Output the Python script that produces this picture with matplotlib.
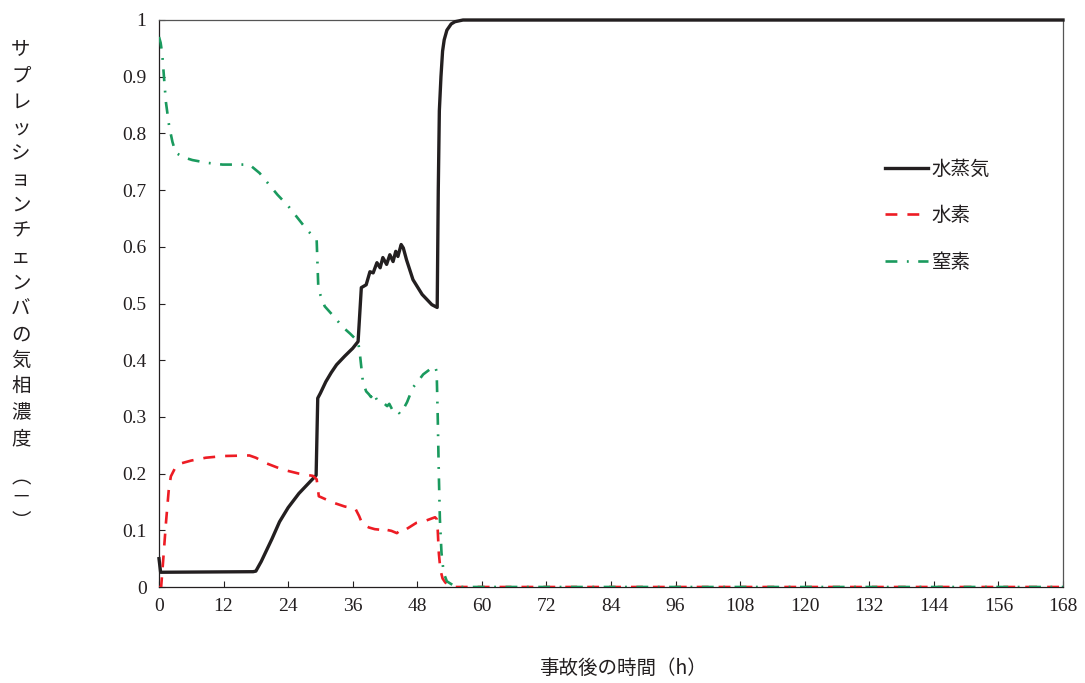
import matplotlib
matplotlib.use("Agg")
import matplotlib.pyplot as plt

# ---- data ----
steam_t = [0, 0.3, 17.5, 18.0, 19, 20, 21, 22.4, 24, 26, 28, 29.2, 29.5, 30, 31, 32, 33, 34.5, 36, 37,
           37.6, 38.5, 39.2, 39.8, 40.5, 41.1, 41.6, 42.3, 42.9, 43.5, 44.0, 44.4, 45.0, 45.4, 46.0,
           47.2, 48.9, 50.7, 51.7, 51.9, 52.1, 52.4, 52.7, 53.0, 53.5, 54.3, 55.0, 56.5, 168]
steam_v = [0.05, 0.026, 0.027, 0.028, 0.045, 0.065, 0.085, 0.115, 0.14, 0.165, 0.185, 0.197, 0.333, 0.342,
           0.362, 0.378, 0.392, 0.407, 0.421, 0.433,
           0.528, 0.533, 0.556, 0.554, 0.572, 0.563, 0.581, 0.569, 0.586, 0.574, 0.592, 0.583, 0.604, 0.598,
           0.577, 0.542, 0.516, 0.498, 0.493, 0.70, 0.84, 0.90, 0.945, 0.965, 0.982, 0.993, 0.997, 1.0, 1.0]

h2_t = [0, 0.4, 0.8, 1.3, 1.8, 2.2, 3.0, 3.7, 6, 8.7, 12, 16.8, 18, 20, 23, 26, 28.6, 29.3, 29.7, 30.2,
        32.3, 34.5, 36.5, 37.2, 37.8, 39, 40.1, 41.1, 41.6, 42.2, 43.2, 44.2, 44.7, 45.3, 45.8, 47.8,
        49.3, 51.3, 51.6, 51.8, 52.0, 52.3, 52.7, 53.2, 54, 55, 168]
h2_v = [0, 0.0, 0.05, 0.114, 0.17, 0.195, 0.21, 0.217, 0.223, 0.228, 0.231, 0.232, 0.228, 0.218, 0.207,
        0.2, 0.196, 0.19, 0.16, 0.158, 0.149, 0.142, 0.138, 0.125, 0.111, 0.105, 0.102, 0.101, 0.097,
        0.101, 0.099, 0.095, 0.099, 0.097, 0.101, 0.113, 0.116, 0.123, 0.12, 0.10, 0.06, 0.03, 0.015,
        0.008, 0.003, 0.0, 0.0]

n2_t = [0, 0.3, 0.6, 1.0, 1.3, 1.9, 2.5, 3.1, 4.5, 6.2, 9, 11.8, 14, 16.8, 18.7, 20, 22, 24, 26, 27.5,
        29.3, 29.6, 30.0, 30.8, 32.5, 34.2, 35.5, 37.0, 37.3, 37.9, 38.5, 39.0, 39.4, 39.8, 40.5, 41.1,
        41.8, 42.4, 42.8, 43.5, 44.2, 44.8, 45.2, 46.1, 47.2, 47.9, 49.1, 50.5, 51.3, 51.6, 51.8, 52.0,
        52.2, 52.5, 52.9, 53.5, 54.5, 56, 168]
n2_v = [0.97, 0.96, 0.94, 0.89, 0.854, 0.812, 0.785, 0.766, 0.758, 0.753, 0.748, 0.745, 0.745, 0.745,
        0.73, 0.715, 0.692, 0.672, 0.648, 0.63, 0.612, 0.53, 0.515, 0.495, 0.477, 0.458, 0.447, 0.433,
        0.414, 0.361, 0.345, 0.34, 0.335, 0.343, 0.33, 0.326, 0.324, 0.319, 0.323, 0.31, 0.312, 0.305,
        0.31, 0.326, 0.352, 0.36, 0.375, 0.385, 0.389, 0.38, 0.30, 0.2, 0.12, 0.06, 0.025, 0.01, 0.004,
        0.0, 0.0]

series_labels = ["水蒸気", "水素", "窒素"]
x_ticks = list(range(0, 169, 12))
y_ticks = [i / 10 for i in range(11)]
y_tick_labels = ["0"] + [f"{v:.1f}" for v in y_ticks[1:-1]] + ["1"]
x_label = "事故後の時間（h）"
y_label_chars = list("サプレッションチェンバの気相濃度")
y_label_unit = ["︵", "－", "︶"]

# ---- style ----
JP = ["Noto Sans CJK JP", "DejaVu Sans"]
SERIF = "Liberation Serif"
c_black = "#231f20"
c_red = "#ed1c24"
c_green = "#1a9a5e"

fig = plt.figure(figsize=(10.85, 6.83), dpi=100)
ax = fig.add_axes([159 / 1085, 1 - 587 / 683, (1063 - 159) / 1085, (587 - 20) / 683])

ax.plot(steam_t, steam_v, color=c_black, lw=2.4, label=series_labels[0], clip_on=False, zorder=3,
        solid_joinstyle="round")
ax.plot(h2_t, h2_v, color=c_red, lw=1.9, dashes=(4.5, 3.8), label=series_labels[1], zorder=3)
ax.plot(n2_t, n2_v, color=c_green, lw=1.9, dashes=(4.5, 3.6, 0.7, 3.6), label=series_labels[2], zorder=4)

ax.set_xlim(0, 168)
ax.set_ylim(0, 1)
ax.set_xticks(x_ticks)
ax.set_yticks(y_ticks)
ax.set_yticklabels(y_tick_labels)
ax.tick_params(direction="in", length=4, width=0.8, color="#231f20", labelsize=14,
               labelcolor="#231f20", labelfontfamily=SERIF)
ax.tick_params(axis="x", pad=8)
ax.tick_params(axis="y", pad=9)

for s in ["left", "bottom"]:
    ax.spines[s].set_color("#231f20")
    ax.spines[s].set_linewidth(0.9)
for s in ["top", "right"]:
    ax.spines[s].set_color("#555555")
    ax.spines[s].set_linewidth(0.9)

leg = ax.legend(loc="upper left", bbox_to_anchor=(885 / 1085, 1 - 159 / 683), bbox_transform=fig.transFigure,
                frameon=False, prop={"family": JP, "size": 14}, handlelength=2.2, handletextpad=0.2,
                labelspacing=1.3, borderpad=0, borderaxespad=0)
for t in leg.get_texts():
    t.set_color("#231f20")

fig.text(623 / 1085, 1 - 668 / 683, x_label, family=JP, fontsize=14, ha="center", va="center",
         color="#231f20")

# vertical (stacked) y-axis label
y0, step = 50, 25.9
for i, ch in enumerate(y_label_chars):
    fig.text(21 / 1085, 1 - (y0 + i * step) / 683, ch, family=JP, fontsize=14, ha="center", va="center",
             color="#231f20")
for ch, yy in zip(y_label_unit, [478, 497, 522]):
    fig.text(21 / 1085, 1 - yy / 683, ch, family=JP, fontsize=14, ha="center", va="center", color="#231f20")

fig.savefig("out.png", dpi=100)
